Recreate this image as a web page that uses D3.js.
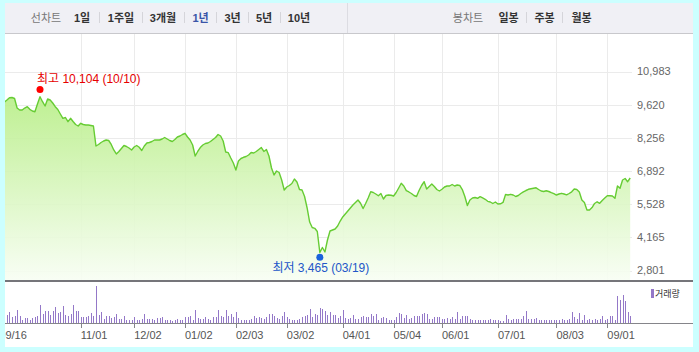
<!DOCTYPE html>
<html>
<head>
<meta charset="utf-8">
<script src="https://cdn.jsdelivr.net/npm/d3@7"></script>
<style>
  body { margin: 0; background: #ccffff; }
  svg { display: block; }
  text { font-family: "Liberation Sans", "Noto Sans CJK KR", sans-serif; }
</style>
</head>
<body>
<script>
// daily closes, 2019-09-16 .. 2020-09-14 (trading days)
const closes = [
  9647, 9688, 9729, 9811, 9906, 9914, 9873, 9482, 9400, 9400,
  9482, 9536, 9429, 9359, 9330, 9647, 9947, 9741, 9565, 9853,
  9811, 9688, 9536, 9421, 9236, 9059, 9092, 8919, 9059, 8927,
  8804, 8742, 8853, 8804, 8783, 8783, 8763, 8742, 7920, 7982,
  8064, 8126, 8167, 8146, 7982, 7756, 7591, 7694, 7817, 7941,
  7900, 7838, 7756, 7879, 7941, 7867, 7735, 7920, 8043, 8064,
  8105, 8167, 8167, 8167, 8208, 8270, 8208, 8146, 8105, 8187,
  8290, 8331, 8393, 8442, 8290, 8167, 7961, 7509, 7694, 7858,
  7961, 8023, 8043, 8105, 8187, 8270, 8393, 8331, 8126, 7673,
  7645, 7427, 7221, 6933, 7303, 7406, 7456, 7488, 7550, 7653,
  7632, 7694, 7776, 7858, 7694, 7776, 7509, 7016, 6728, 6892,
  6831, 6522, 6111, 6234, 6296, 6378, 6563, 6440, 6131, 6111,
  5844, 5371, 4795, 4569, 4536, 4405, 3541, 3747, 3562, 4055,
  4425, 4466, 4507, 4631, 4836, 5001, 5124, 5248, 5371, 5494,
  5597, 5700, 5564, 5350, 5556, 5782, 6041, 6008, 5946, 5876,
  5967, 5741, 5885, 5905, 5893, 5864, 6008, 6193, 6387, 6275,
  6082, 6029, 5967, 5885, 5844, 6090, 6296, 6452, 6152, 6255,
  6358, 6255, 6131, 6070, 6140, 6234, 6275, 6275, 6337, 6275,
  6317, 6296, 6131, 5844, 5474, 5700, 5782, 5803, 5770, 5836,
  5782, 5729, 5646, 5618, 5556, 5618, 5535, 5543, 5597, 5926,
  5905, 5934, 5905, 5844, 5885, 5967, 6037, 6090, 6140, 6164,
  6185, 6201, 6131, 6070, 6049, 6078, 6049, 6000, 5959, 5905,
  5946, 5975, 5946, 5913, 5967, 6037, 6152, 6131, 6029, 5700,
  5597, 5289, 5289, 5391, 5556, 5626, 5564, 5680, 5782, 5876,
  5876, 5864, 5770, 6275, 6181, 6522, 6584, 6452, 6604
]

// daily volume (thousand shares, estimated)
const volumes = [
  200, 250, 180, 250, 320, 170, 220, 400, 220, 100,
  150, 150, 100, 150, 170, 220, 550, 280, 370, 350,
  250, 370, 480, 300, 320, 520, 250, 220, 270, 550,
  350, 350, 170, 180, 170, 220, 300, 200, 1100, 250,
  320, 130, 200, 200, 150, 170, 280, 120, 120, 220,
  100, 100, 100, 170, 100, 80, 130, 280, 120, 120,
  130, 100, 150, 150, 170, 100, 100, 100, 70, 100,
  130, 80, 100, 180, 180, 200, 100, 400, 150, 130,
  130, 170, 130, 100, 180, 170, 400, 200, 170, 400,
  200, 280, 170, 320, 150, 100, 100, 100, 100, 130,
  200, 150, 170, 150, 130, 170, 280, 270, 220, 150,
  130, 220, 320, 180, 120, 100, 100, 100, 130, 170,
  220, 250, 430, 180, 270, 250, 450, 420, 350, 250,
  330, 250, 250, 150, 220, 380, 150, 130, 150, 250,
  130, 130, 170, 200, 170, 170, 280, 220, 280, 100,
  150, 170, 150, 100, 100, 100, 170, 300, 280, 150,
  250, 120, 150, 200, 200, 220, 280, 300, 280, 120,
  120, 180, 180, 180, 120, 120, 150, 130, 170, 130,
  330, 120, 220, 220, 220, 120, 100, 100, 100, 100,
  100, 100, 100, 120, 100, 100, 80, 50, 70, 250,
  120, 80, 130, 120, 120, 120, 220, 370, 130, 120,
  120, 150, 100, 100, 100, 100, 100, 100, 100, 100,
  100, 130, 80, 100, 120, 320, 180, 130, 300, 80,
  250, 100, 120, 100, 120, 100, 120, 220, 100, 120,
  200, 200, 80, 800, 700, 850, 650, 320, 220
]

const tickIdx = [0, 32, 53, 73, 93, 113, 135, 155, 174, 196, 219, 239]
const tickLabels = ['09/16', '11/01', '12/02', '01/02', '02/03', '03/02', '04/01', '05/04', '06/01', '07/01', '08/03', '09/01']

const priceTicks = [2801, 4165, 5528, 6892, 8256, 9620, 10983]

const hi = { idx: 16, value: 10104, date: '10/10' }
const lo = { idx: 126, value: 3465, date: '03/19' }

const periodTabs = ['1일', '1주일', '3개월', '1년', '3년', '5년', '10년']
const periodX = [82, 121, 163, 200.5, 232.5, 264, 299]
const periodSep = [99, 142, 184, 216, 248, 280]
const candleTabs = ['일봉', '주봉', '월봉']
const candleX = [508.5, 544.5, 581.5]
const candleSep = [526, 562]

const width = 699
const height = 352

const svg = d3.select('body')
  .append('svg')
  .attr('width', width)
  .attr('height', height)

// white panel
svg.append('rect')
  .attr('x', 5).attr('y', 3)
  .attr('width', 688).attr('height', 344)
  .attr('fill', '#fff')

// top bar
svg.append('rect')
  .attr('x', 5).attr('y', 3)
  .attr('width', 688).attr('height', 30)
  .attr('fill', '#f0f0f5')
svg.append('line')
  .attr('x1', 5).attr('x2', 693)
  .attr('y1', 33.5).attr('y2', 33.5)
  .attr('stroke', '#c8c8cc')
svg.append('line')
  .attr('x1', 347.5).attr('x2', 347.5)
  .attr('y1', 3).attr('y2', 33)
  .attr('stroke', '#dcdce2')

const bar = svg.append('g').attr('font-size', 11)
bar.append('text')
  .attr('x', 46).attr('y', 22)
  .attr('text-anchor', 'middle')
  .attr('fill', '#777')
  .text('선차트')
bar.selectAll('text.period')
  .data(periodTabs)
  .enter()
  .append('text')
  .attr('class', 'period')
  .attr('x', (d, i) => periodX[i])
  .attr('y', 22)
  .attr('text-anchor', 'middle')
  .attr('font-weight', 'bold')
  .attr('fill', d => d === '1년' ? '#3a55a8' : '#333')
  .text(d => d)

bar.append('text')
  .attr('x', 468).attr('y', 22)
  .attr('text-anchor', 'middle')
  .attr('fill', '#777')
  .text('봉차트')
bar.selectAll('text.candle')
  .data(candleTabs)
  .enter()
  .append('text')
  .attr('class', 'candle')
  .attr('x', (d, i) => candleX[i])
  .attr('y', 22)
  .attr('text-anchor', 'middle')
  .attr('font-weight', 'bold')
  .attr('fill', '#333')
  .text(d => d)

bar.selectAll('line.sep')
  .data(periodSep.concat(candleSep))
  .enter()
  .append('line')
  .attr('x1', d => d + 0.5)
  .attr('x2', d => d + 0.5)
  .attr('y1', 12).attr('y2', 23)
  .attr('stroke', '#d5d5da')

// scales
const x = d3.scaleLinear()
  .domain([0, closes.length - 1])
  .range([-0.7, 630.2])

const y = d3.scaleLinear()
  .domain([2801, 10983])
  .range([270.5, 71.5])

const vy = d3.scaleLinear()
  .domain([0, 1200])
  .range([323, 283])

const plotTop = 34
const plotBottom = 281
const plotRight = 632

const defs = svg.append('defs')
defs.append('clipPath')
  .attr('id', 'plot-clip')
  .append('rect')
  .attr('x', 5).attr('y', plotTop)
  .attr('width', plotRight - 5).attr('height', plotBottom - plotTop)

const grad = defs.append('linearGradient')
  .attr('id', 'area-fill')
  .attr('gradientUnits', 'userSpaceOnUse')
  .attr('x1', 0).attr('x2', 0)
  .attr('y1', 95).attr('y2', plotBottom)
grad.append('stop').attr('offset', 0).attr('stop-color', '#b7ee86')
grad.append('stop').attr('offset', 1).attr('stop-color', '#f8fef4')

// grid
const grid = svg.append('g')
  .attr('stroke', '#ebebeb')
  .attr('shape-rendering', 'crispEdges')
grid.selectAll('line.h')
  .data(priceTicks)
  .enter()
  .append('line')
  .attr('x1', 5).attr('x2', plotRight)
  .attr('y1', d => Math.round(y(d)) + 0.5)
  .attr('y2', d => Math.round(y(d)) + 0.5)
grid.selectAll('line.v')
  .data(tickIdx.slice(1))
  .enter()
  .append('line')
  .attr('x1', d => Math.round(x(d)) + 0.5)
  .attr('x2', d => Math.round(x(d)) + 0.5)
  .attr('y1', plotTop).attr('y2', plotBottom)

// price area + line
const main = svg.append('g').attr('clip-path', 'url(#plot-clip)')

const area = d3.area()
  .x((d, i) => x(i))
  .y0(plotBottom)
  .y1(d => y(d))

const line = d3.line()
  .x((d, i) => x(i))
  .y(d => y(d))

main.append('path')
  .datum(closes)
  .attr('d', area)
  .attr('fill', 'url(#area-fill)')
  .attr('opacity', 0.9)

main.append('path')
  .datum(closes)
  .attr('d', line)
  .attr('fill', 'none')
  .attr('stroke', '#66cc33')
  .attr('stroke-width', 1.4)
  .attr('stroke-linejoin', 'round')

// price axis labels (right)
svg.append('g')
  .selectAll('text')
  .data(priceTicks)
  .enter()
  .append('text')
  .attr('x', 637)
  .attr('y', d => y(d))
  .attr('dy', '0.36em')
  .attr('font-size', 11)
  .attr('fill', '#666')
  .text(d => d3.format(',')(d))

// high / low markers
svg.append('circle')
  .attr('cx', x(hi.idx)).attr('cy', y(hi.value) - 3.5)
  .attr('r', 3.5).attr('fill', '#ff0000')
svg.append('text')
  .attr('x', 37).attr('y', y(hi.value) - 10)
  .attr('font-size', 12)
  .attr('fill', '#e60000')
  .text('최고 ' + d3.format(',')(hi.value) + ' (' + hi.date + ')')

svg.append('circle')
  .attr('cx', x(lo.idx)).attr('cy', y(lo.value) + 3)
  .attr('r', 3.5).attr('fill', '#1a62dc')
svg.append('text')
  .attr('x', x(lo.idx) + 1).attr('y', y(lo.value) + 18)
  .attr('text-anchor', 'middle')
  .attr('font-size', 12)
  .attr('fill', '#2256c8')
  .text('최저 ' + d3.format(',')(lo.value) + ' (' + lo.date + ')')

// volume bars
svg.append('g')
  .attr('shape-rendering', 'crispEdges')
  .selectAll('rect')
  .data(volumes)
  .enter()
  .append('rect')
  .attr('x', (d, i) => Math.round(x(i)))
  .attr('y', d => vy(d))
  .attr('width', 1)
  .attr('height', d => vy(0) - vy(d))
  .attr('fill', '#9478c8')

// pane separators
svg.append('line')
  .attr('x1', 5).attr('x2', 693)
  .attr('y1', 281).attr('y2', 281)
  .attr('stroke', '#75757a')
  .attr('stroke-width', 2)
svg.append('line')
  .attr('x1', 5).attr('x2', 693)
  .attr('y1', 323.5).attr('y2', 323.5)
  .attr('stroke', '#85858a')

// date ticks, labels start at the tick
const xAxis = svg.append('g').attr('font-size', 11).attr('fill', '#555')
xAxis.selectAll('line')
  .data(tickIdx)
  .enter()
  .append('line')
  .attr('x1', d => Math.round(x(d)) + 0.5)
  .attr('x2', d => Math.round(x(d)) + 0.5)
  .attr('y1', 323).attr('y2', 328)
  .attr('stroke', '#85858a')
xAxis.selectAll('text')
  .data(tickIdx)
  .enter()
  .append('text')
  .attr('x', d => x(d))
  .attr('y', 339)
  .text((d, i) => tickLabels[i])

// volume legend
svg.append('rect')
  .attr('x', 651).attr('y', 289)
  .attr('width', 3).attr('height', 9)
  .attr('fill', '#9478c8')
svg.append('text')
  .attr('x', 655).attr('y', 297)
  .attr('font-size', 9)
  .attr('fill', '#333')
  .text('거래량')

// outer frame colour over the edges
const frame = svg.append('g').attr('fill', '#ccffff')
frame.append('rect').attr('x', 0).attr('y', 0).attr('width', 5).attr('height', height)
frame.append('rect').attr('x', 693).attr('y', 0).attr('width', 6).attr('height', height)
frame.append('rect').attr('x', 0).attr('y', 347).attr('width', width).attr('height', 5)
frame.append('rect').attr('x', 0).attr('y', 0).attr('width', width).attr('height', 3)
</script>
</body>
</html>
